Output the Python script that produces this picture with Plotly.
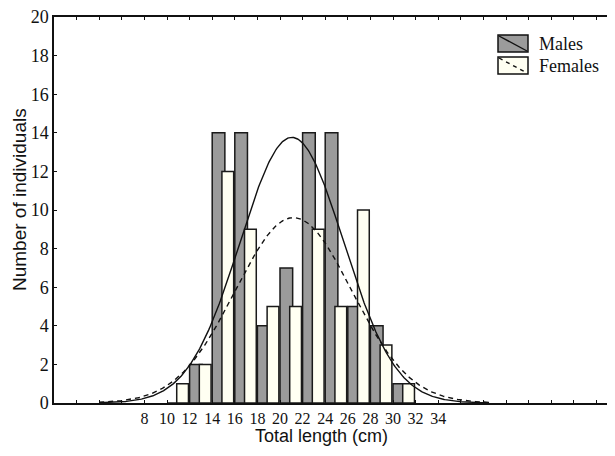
import numpy as np
import plotly.graph_objects as go

# ---------------- data ----------------
bin_start = [10, 12, 14, 16, 18, 20, 22, 24, 26, 28, 30]      # class lower limits (cm)
males     = [0, 2, 14, 14, 4, 7, 14, 14, 5, 4, 1]
females   = [1, 2, 12, 9, 5, 5, 9, 5, 10, 3, 1]
x_tick_labels = ["8", "10", "12", "14", "16", "18", "20", "22", "24", "26", "28", "30", "32", "34"]
y_ticks = [0, 2, 4, 6, 8, 10, 12, 14, 16, 18, 20]

bin_width = 2
# fitted normal curves (parameters)
male_mean, male_sd = 21.05, 4.58
female_mean, female_sd = 21.2, 5.15

# ---------------- figure ----------------
OFF = 8                      # default page margin of the html body
PAGE_W, PAGE_H = 615, 456
W, H = PAGE_W - 2 * OFF, PAGE_H - 2 * OFF
L, T = 54 - OFF, 17 - OFF
B = H - (403 - OFF)
R = 0
PW, PH = W - L - R, H - T - B

def px(xp):   # page pixel -> paper x
    return (xp - OFF - L) / PW

def py(yp):   # page pixel -> paper y
    return (H - B - (yp - OFF)) / PH

fig = go.Figure()

fig.add_trace(go.Bar(
    x=bin_start, y=males, name="Males",
    offset=0.0, width=1.12,
    marker=dict(color="#9b9b9b", line=dict(color="#1a1a1a", width=1.5)),
))
fig.add_trace(go.Bar(
    x=bin_start, y=females, name="Females",
    offset=0.86, width=1.04,
    marker=dict(color="#fffff2", line=dict(color="#1a1a1a", width=1.5)),
))

n_m, n_f = sum(males), sum(females)
xc = np.linspace(4, 38.5, 400)

def normal_counts(x, mean, sd, n):
    return n * bin_width / (sd * np.sqrt(2 * np.pi)) * np.exp(-0.5 * ((x - mean) / sd) ** 2)

fig.add_trace(go.Scatter(
    x=xc, y=normal_counts(xc, male_mean, male_sd, n_m), mode="lines",
    line=dict(color="#111111", width=1.4), showlegend=False, hoverinfo="skip",
))
fig.add_trace(go.Scatter(
    x=xc, y=normal_counts(xc, female_mean, female_sd, n_f), mode="lines",
    line=dict(color="#111111", width=1.4, dash="5px,4px"), showlegend=False, hoverinfo="skip",
))
# invisible trace so that the top axis is drawn
fig.add_trace(go.Scatter(
    x=[bin_start[0]], y=[0], xaxis="x2", mode="markers",
    marker=dict(opacity=0), showlegend=False, hoverinfo="skip",
))

tickvals = list(range(0, 50, 2))
ticktext = [str(v) if str(v) in x_tick_labels else "" for v in tickvals]
x_range = [0, PW / 11.3]

serif = "Liberation Serif, Times New Roman, serif"
sans = "Liberation Sans, Arial, sans-serif"

fig.update_layout(
    width=W, height=H,
    margin=dict(l=L, r=R, t=T, b=B, autoexpand=False),
    paper_bgcolor="white", plot_bgcolor="white",
    barmode="overlay",
    showlegend=False,
    font=dict(family=serif, color="#111111"),
    xaxis=dict(
        range=x_range, tickvals=tickvals, ticktext=ticktext,
        ticks="inside", ticklen=3, tickwidth=1.2, tickcolor="#111111",
        showline=True, linecolor="#111111", linewidth=1.5, mirror=False,
        showgrid=False, zeroline=False, automargin=False, ticklabeloverflow="allow",
        tickfont=dict(family=serif, size=16, color="#111111"),
    ),
    xaxis2=dict(
        overlaying="x", side="top", anchor="y",
        range=x_range, tickvals=tickvals, showticklabels=False,
        ticks="inside", ticklen=3, tickwidth=1.2, tickcolor="#111111",
        showline=True, linecolor="#111111", linewidth=1.5, mirror=False,
        showgrid=False, zeroline=False, automargin=False,
    ),
    yaxis=dict(
        range=[0, 20], tickvals=y_ticks,
        ticks="inside", ticklen=3, tickwidth=1.2, tickcolor="#111111",
        showline=True, linecolor="#111111", linewidth=1.5, mirror=False,
        showgrid=False, zeroline=False, automargin=False, ticklabeloverflow="allow",
        tickfont=dict(family=serif, size=18, color="#111111"),
    ),
)

annotations = [
    dict(text="Total length (cm)", x=px(321), y=py(436), xref="paper", yref="paper",
         xanchor="center", yanchor="middle", showarrow=False,
         font=dict(family=sans, size=18, color="#111111")),
    dict(text="Number of individuals", x=px(19), y=py(200), xref="paper", yref="paper",
         xanchor="center", yanchor="middle", showarrow=False, textangle=-90,
         font=dict(family=sans, size=19, color="#111111")),
    dict(text="Males", x=px(537), y=py(44), xref="paper", yref="paper",
         xanchor="left", yanchor="middle", showarrow=False,
         font=dict(family=serif, size=18, color="#111111")),
    dict(text="Females", x=px(537), y=py(66), xref="paper", yref="paper",
         xanchor="left", yanchor="middle", showarrow=False,
         font=dict(family=serif, size=18, color="#111111")),
]
fig.update_layout(annotations=annotations)

shapes = [
    dict(type="rect", xref="paper", yref="paper", x0=px(498), x1=px(528), y0=py(52), y1=py(35),
         fillcolor="#9b9b9b", line=dict(color="#111111", width=1.5)),
    dict(type="line", xref="paper", yref="paper", x0=px(499), x1=px(527), y0=py(36), y1=py(51),
         line=dict(color="#111111", width=1.4)),
    dict(type="rect", xref="paper", yref="paper", x0=px(498), x1=px(528), y0=py(74), y1=py(57),
         fillcolor="#fffff2", line=dict(color="#111111", width=1.5)),
    dict(type="line", xref="paper", yref="paper", x0=px(499), x1=px(527), y0=py(58), y1=py(73),
         line=dict(color="#111111", width=1.4, dash="4px,4px")),
]
fig.update_layout(shapes=shapes)

fig.write_html("out.html")
